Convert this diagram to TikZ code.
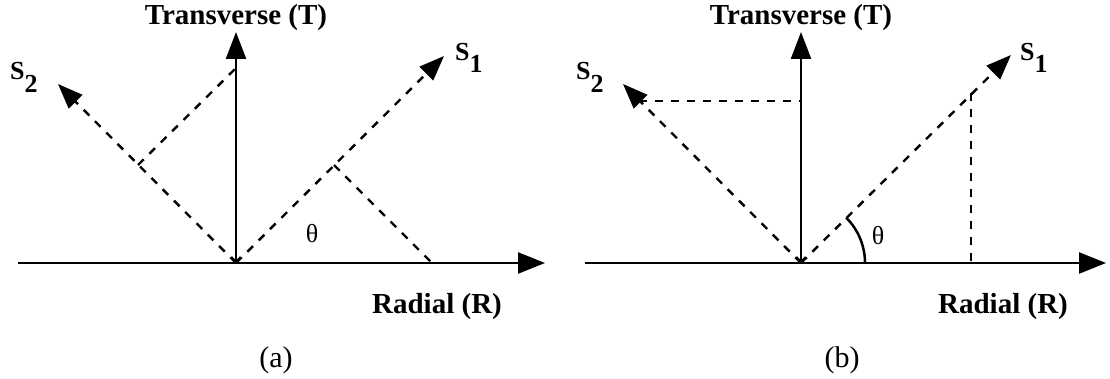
\documentclass[tikz,border=0pt]{standalone}
\usepackage{fontspec}
\setmainfont{Liberation Serif}
\usetikzlibrary{arrows.meta}
\begin{document}
\begin{tikzpicture}[x=1pt,y=-1pt,
  axis/.style={line width=2.5pt,-{Triangle[length=27pt,width=21pt]}},
  taxis/.style={line width=2.5pt,{Straight Barb[length=5pt,width=9pt,line width=1.6pt]}-{Triangle[length=27pt,width=20pt]}},
  vec/.style={line width=2.4pt,dash pattern=on 8pt off 8pt,-{Triangle[length=25pt,width=19pt]}},
  proj/.style={line width=2.4pt,dash pattern=on 8pt off 8pt},
  lbl/.style={font=\fontsize{29}{32}\selectfont\bfseries,inner sep=0pt,anchor=base},
  slbl/.style={font=\fontsize{26}{28}\selectfont\bfseries,inner sep=0pt,anchor=base west},
  ang/.style={font=\fontsize{26}{28}\selectfont,inner sep=0pt,anchor=base},
  captext/.style={font=\fontsize{30}{32}\selectfont,inner sep=0pt,anchor=base}]
\useasboundingbox (0,0) rectangle (1110,379);
% ---------- panel (a) ----------
\coordinate (Oa) at (236,263);
\coordinate (RLa) at (18,263);
\coordinate (RRa) at (545,263);
\coordinate (TTa) at (236,32);
\coordinate (S1a) at (444,56);
\coordinate (S2a) at (58,84);
\coordinate (PTa) at (236,68);
\coordinate (F2a) at (138,165);
\coordinate (PRa) at (432,263);
\coordinate (F1a) at (334,165);
\draw[axis] (RLa) -- (RRa);
\draw[taxis] (Oa) -- (TTa);
\draw[vec] (Oa) -- (S1a);
\draw[vec] (Oa) -- (S2a);
\draw[proj] (F2a) -- (PTa);
\draw[proj] (F1a) -- (PRa);
\node[lbl] (Ta) at (236,25) {Transverse (T)};
\node[lbl] (Ra) at (437,313) {Radial (R)};
\node[slbl] (s1a) at (455,61) {S\raisebox{-12pt}{1}};
\node[slbl] (s2a) at (10,80) {S\raisebox{-13pt}{2}};
\node[ang] (tha) at (312,243) {θ};
\node[captext] (capa) at (276,367) {(a)};
% ---------- panel (b) ----------
\coordinate (Ob) at (801,263);
\coordinate (RLb) at (585,263);
\coordinate (RRb) at (1106,263);
\coordinate (TTb) at (801,32);
\coordinate (S1b) at (1011,55);
\coordinate (S2b) at (623,84);
\coordinate (PTb) at (801,101);
\coordinate (F2b) at (639,101);
\coordinate (PRb) at (971,263);
\coordinate (F1b) at (971,93);
\draw[axis] (RLb) -- (RRb);
\draw[taxis] (Ob) -- (TTb);
\draw[vec] (Ob) -- (S1b);
\draw[vec] (Ob) -- (S2b);
\draw[proj] (F2b) -- (PTb);
\draw[proj] (F1b) -- (PRb);
\draw[line width=2.5pt] (Ob) ++(-45:64) arc[start angle=-45,end angle=-1,radius=64];
\node[lbl] (Tb) at (801,25) {Transverse (T)};
\node[lbl] (Rb) at (1003,313) {Radial (R)};
\node[slbl] (s1b) at (1020,61) {S\raisebox{-12pt}{1}};
\node[slbl] (s2b) at (576,80) {S\raisebox{-13pt}{2}};
\node[ang] (thb) at (878,244) {θ};
\node[captext] (capb) at (842,367) {(b)};
\end{tikzpicture}
\end{document}
